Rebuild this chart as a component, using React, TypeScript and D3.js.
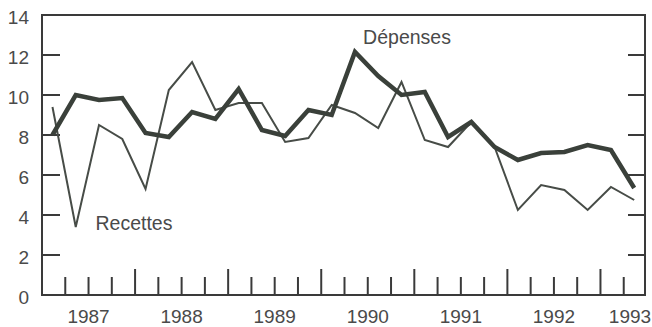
import React from "react";
import * as d3 from "d3";

const years = [1987, 1988, 1989, 1990, 1991, 1992, 1993];
const quartersPerYear = 4;
const quarterCount = 26; // 1987Q1 .. 1993Q2
const yTicks = [0, 2, 4, 6, 8, 10, 12, 14];

const depenses = [8.0, 10.0, 9.75, 9.85, 8.1, 7.9, 9.15, 8.8, 10.3, 8.25, 7.95, 9.25, 9.0, 12.15, 10.95, 10.0, 10.15, 7.9, 8.65, 7.4, 6.75, 7.1, 7.15, 7.5, 7.25, 5.35];
const recettes = [9.4, 3.4, 8.5, 7.8, 5.3, 10.25, 11.65, 9.25, 9.6, 9.6, 7.65, 7.85, 9.5, 9.1, 8.35, 10.65, 7.75, 7.4, 8.65, 7.4, 4.25, 5.5, 5.25, 4.25, 5.4, 4.75];

const W = 652;
const H = 327;
const left = 42;
const right = 645;
const top = 15;
const bottom = 295;
const FONT = "'Liberation Sans', Arial, Helvetica, sans-serif";
const TEXT = "#4a4a4a";
const AXIS = "#3a3a3a";

export default function App() {
  const x = d3.scaleLinear().domain([0, quarterCount]).range([left, 647]);
  const y = d3.scaleLinear().domain([0, 14]).range([bottom, top]);
  const pointX = (i: number) => x(i + 0.45);
  const line = d3
    .line<number>()
    .x((_, i) => pointX(i))
    .y((d) => y(d));

  const qTicks = d3.range(1, quarterCount);

  return (
    <svg
      width={W}
      height={H}
      style={{ position: "absolute", left: 0, top: 0, background: "#fff" }}
      fontFamily={FONT}
    >
      {/* frame */}
      <rect x={left} y={top} width={right - left} height={bottom - top} fill="none" stroke={AXIS} strokeWidth={2} />
      {/* y ticks left and right */}
      {yTicks.filter((v) => v > 0 && v < 14).map((v) => (
        <g key={"yt" + v}>
          <line x1={left} x2={left + 18} y1={y(v)} y2={y(v)} stroke={AXIS} strokeWidth={2} />
          <line x1={right} x2={right - 17} y1={y(v)} y2={y(v)} stroke={AXIS} strokeWidth={2} />
        </g>
      ))}
      {yTicks.map((v) => (
        <text key={"yl" + v} x={29} y={y(v) + 8.5} textAnchor="end" fontSize={19} fill={TEXT}>
          {v}
        </text>
      ))}
      {/* x ticks */}
      {qTicks.map((q) => (
        <line
          key={"xt" + q}
          x1={x(q)}
          x2={x(q)}
          y1={bottom}
          y2={bottom - (q % quartersPerYear === 0 ? 26 : 18)}
          stroke={AXIS}
          strokeWidth={2}
        />
      ))}
      {years.map((yr, i) => {
        const cx = Math.min(x(i * quartersPerYear + 2), 630);
        return (
          <text key={"xl" + yr} x={cx} y={323} textAnchor="middle" fontSize={19} fill={TEXT}>
            {yr}
          </text>
        );
      })}
      {/* series */}
      <path d={line(recettes) || ""} fill="none" stroke="#474c47" strokeWidth={2} strokeLinejoin="miter" />
      <path d={line(depenses) || ""} fill="none" stroke="#3a403a" strokeWidth={4.5} strokeLinejoin="miter" />
      {/* labels */}
      <text x={x(13.8)} y={y(12.55)} fontSize={19.5} fill={TEXT}>Dépenses</text>
      <text x={x(2.3)} y={y(3.25)} fontSize={19.5} fill={TEXT}>Recettes</text>
    </svg>
  );
}
